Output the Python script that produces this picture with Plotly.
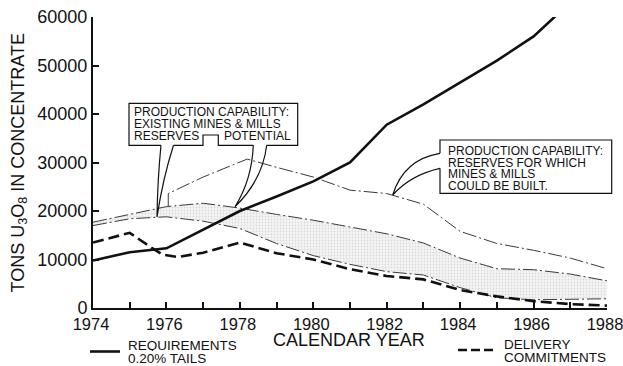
import plotly.graph_objects as go

# ---- data -------------------------------------------------------------
years = list(range(1974, 1989))
label_years = list(range(1974, 1989, 2))
x_tick_labels = ["1974", "1976", "1978", "1980", "1982", "1984", "1986", "1988"]
y_tick_values = [0, 10000, 20000, 30000, 40000, 50000, 60000]
y_tick_labels = ["0", "10000", "20000", "30000", "40000", "50000", "60000"]

# requirements at 0.20% tails (tons U3O8)
req_years = list(range(1974, 1988))
requirements = [9800, 11500, 12300, 16100, 20000, 23000, 26100, 30000,
                37800, 42000, 46500, 51000, 56000, 63000]

# delivery commitments
commit_years = [1974, 1975, 1975.6, 1975.9, 1976.3, 1977, 1978, 1979, 1980,
                1981, 1982, 1983, 1984, 1985, 1986, 1987, 1988]
commitments = [13500, 15500, 12400, 11000, 10500, 11400, 13500, 11300, 10000,
               8000, 6600, 5900, 3700, 2400, 1400, 800, 500]

# production capability, existing mines & mills: reserves
existing_reserves = [17000, 18400, 18800, 17900, 16400, 13300, 10800, 9000,
                     7500, 6800, 4200, 2100, 1700, 1800, 1900]
# production capability, existing mines & mills: reserves + potential
existing_potential = [17700, 19300, 20900, 21600, 20600, 19300, 18100, 16700,
                      15300, 13400, 10300, 8100, 7900, 7000, 5600]
# production capability: reserves for which mines & mills could be built
buildable_years = [1976.05, 1976.05, 1977, 1978.2, 1979, 1980, 1981, 1982,
                   1983, 1984, 1985, 1986, 1987, 1988]
buildable = [21000, 23600, 27000, 30700, 29000, 27000, 24300, 23600,
             21400, 15800, 13300, 11900, 10300, 8100]

INK = "#111111"
THIN = "#3a3a3a"
FONT = "Liberation Sans, Arial, sans-serif"
THIN_DASH = "14px,3px,2px,3px"

fig = go.Figure()

fig.add_trace(go.Scatter(x=years, y=existing_reserves, mode="lines",
                         line=dict(color=THIN, width=1, dash=THIN_DASH),
                         hoverinfo="skip"))
fig.add_trace(go.Scatter(x=years, y=existing_potential, mode="lines",
                         line=dict(color=THIN, width=1, dash=THIN_DASH),
                         fill="tonexty", fillcolor="rgba(0,0,0,0)",
                         fillpattern=dict(shape=".", size=3, solidity=0.3,
                                          fgcolor="#c2c2c2", bgcolor="#f5f5f5"),
                         hoverinfo="skip"))
fig.add_trace(go.Scatter(x=buildable_years, y=buildable, mode="lines",
                         line=dict(color=THIN, width=1, dash=THIN_DASH),
                         hoverinfo="skip"))
fig.add_trace(go.Scatter(x=req_years, y=requirements, mode="lines",
                         line=dict(color=INK, width=2.6), hoverinfo="skip"))
fig.add_trace(go.Scatter(x=commit_years, y=commitments, mode="lines",
                         line=dict(color=INK, width=2.6, dash="11px,5px"),
                         hoverinfo="skip"))

# ---- layout helpers (figure pixel -> paper fraction) --------------------
L, R, T, B = 93, 16, 17, 58
W, H = 623, 366
PW, PH = W - L - R, H - T - B


def px(x, y):
    return (x - L) / PW, (H - B - y) / PH


def path(cmds):
    out = []
    for c in cmds:
        if isinstance(c, str):
            out.append(c)
        else:
            u, v = px(*c)
            out.append(f"{u:.5f},{v:.5f}")
    return " ".join(out)


line_style = dict(color=INK, width=1.2)

# callout 1: existing mines & mills, with two tails
box1 = path(["M", (161, 145.3), "L", (129, 145.3), "L", (129, 103.3),
             "L", (297.7, 103.3), "L", (297.7, 145.3), "L", (266.7, 145.3),
             "M", (253.3, 145.3), "L", (218.3, 145.3), "L", (218.3, 135),
             "L", (203, 135), "L", (203, 145.3), "L", (173.5, 145.3)])
tail1 = path(["M", (161, 145.3), "Q", (157.6, 178.9), (157, 217),
              "Q", (162.8, 178.9), (173.5, 145.3)])
tail2 = path(["M", (253.3, 145.3), "Q", (251.9, 180), (235, 206.7),
              "Q", (262.6, 180), (266.7, 145.3)])
# callout 2: buildable reserves
box2 = path(["M", (440, 153.3), "L", (440, 140), "L", (611.7, 140),
             "L", (611.7, 193.3), "L", (440, 193.3), "L", (440, 168.3)])
tail3 = path(["M", (440, 153.3), "Q", (403.7, 159.3), (392.7, 195),
              "Q", (410.3, 175), (440, 168.3)])

shapes = []
for p in (box1, tail1, tail2, box2, tail3):
    shapes.append(dict(type="path", path=p, xref="paper", yref="paper",
                       line=line_style, fillcolor="rgba(0,0,0,0)"))

# legend samples
for (x0, x1, y, dash) in ((90, 120, 351.5, "solid"), (458, 495, 350, "dash")):
    u0, v = px(x0, y)
    u1, _ = px(x1, y)
    shapes.append(dict(type="line", xref="paper", yref="paper",
                       x0=u0, x1=u1, y0=v, y1=v,
                       line=dict(color=INK, width=2.6,
                                 dash="9px,4px" if dash == "dash" else "solid")))

annotations = []


def text(x, y, s, size, anchor="left", angle=0, box_h=None):
    u, v = px(x, y)
    a = dict(x=u, y=v, xref="paper", yref="paper", text=s,
             showarrow=False, xanchor=anchor, yanchor="middle",
             textangle=angle, borderpad=0,
             font=dict(family=FONT, size=size, color=INK))
    if box_h:
        a["height"] = box_h
    annotations.append(a)


cs = 12
text(133, 111.5, "PRODUCTION CAPABILITY:", cs, box_h=11)
text(133, 123.2, "EXISTING MINES &amp; MILLS", cs, box_h=11)
text(133, 135.2, "RESERVES", cs, box_h=11)
text(292, 135.2, "POTENTIAL", cs, anchor="right", box_h=11)

text(447, 150.3, "PRODUCTION CAPABILITY:", cs, box_h=11)
text(447, 162, "RESERVES FOR WHICH", cs, box_h=11)
text(447, 173.7, "MINES &amp; MILLS", cs, box_h=11)
text(447, 185.4, "COULD BE BUILT.", cs, box_h=11)

text(349, 339.5, "CALENDAR YEAR", 18, anchor="center", box_h=16)
text(19, 163.5, "TONS U<sub>3</sub>O<sub>8</sub> IN CONCENTRATE", 18,
     anchor="center", angle=-90)

text(127, 344.5, "REQUIREMENTS", 13.5, box_h=12)
text(127, 358, "0.20% TAILS", 13.5, box_h=12)
text(503, 343.5, "DELIVERY", 13.5, box_h=12)
text(503, 357, "COMMITMENTS", 13.5, box_h=12)

axis_common = dict(showline=True, linewidth=2, linecolor=INK, ticks="inside",
                   ticklen=6, tickwidth=1.5, tickcolor=INK, showgrid=False,
                   zeroline=False, automargin=False, ticklabeloverflow="allow")

fig.update_layout(
    width=W, height=H,
    margin=dict(l=L, r=R, t=T, b=B, autoexpand=False),
    plot_bgcolor="white", paper_bgcolor="white",
    showlegend=False,
    font=dict(family=FONT, color=INK),
    xaxis=dict(range=[1974, 1988], tickvals=label_years, ticktext=x_tick_labels,
               ticklabelshift=-2,
               tickfont=dict(family=FONT, size=16.5, color=INK),
               minor=dict(ticks="inside", tickvals=years, ticklen=6,
                          tickwidth=1.5, tickcolor=INK, showgrid=False),
               **axis_common),
    yaxis=dict(range=[0, 60000], tickvals=y_tick_values, ticktext=y_tick_labels,
               tickfont=dict(family=FONT, size=18, color=INK),
               **axis_common),
    shapes=shapes,
    annotations=annotations,
)

fig.write_html("out.html")
